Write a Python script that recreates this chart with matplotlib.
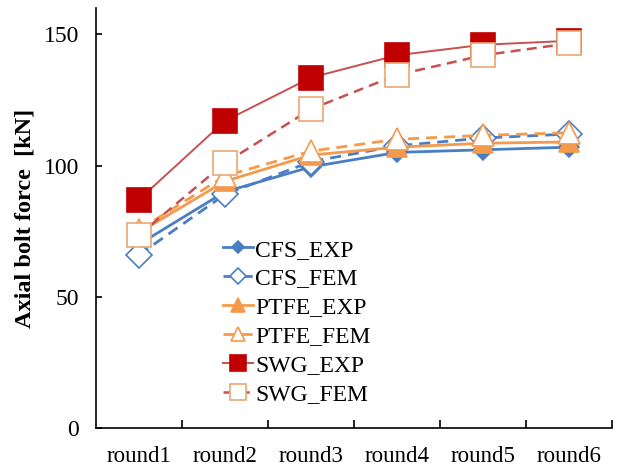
import matplotlib
matplotlib.use("Agg")
import matplotlib.pyplot as plt

plt.rcParams["font.family"] = ["Liberation Serif", "DejaVu Serif"]

rounds = ["round1", "round2", "round3", "round4", "round5", "round6"]
cfs_exp = [70, 90, 99.5, 105, 106, 107]
cfs_fem = [66, 89, 101.5, 107.5, 110.5, 112]
ptfe_exp = [74.5, 94, 104, 107, 108.5, 109]
ptfe_fem = [75.5, 96, 105.5, 110, 111.5, 112.5]
swg_exp = [87, 117, 133.5, 142, 146, 147.5]
swg_fem = [73.5, 101, 121.5, 134.5, 142, 146.5]

BLUE = "#4A7EC2"
ORANGE = "#F59A4C"
RED_M = "#C00000"
RED_L = "#C8504F"

# (label, values, line colour, linestyle, marker, face, edge, size, lw)
series = [
    ("CFS_EXP", cfs_exp, BLUE, "-", "D", BLUE, BLUE, 10, 2.0),
    ("CFS_FEM", cfs_fem, BLUE, (0, (4, 2.5)), "D", "white", BLUE, 13, 2.0),
    ("PTFE_EXP", ptfe_exp, ORANGE, "-", "^", ORANGE, ORANGE, 15, 2.0),
    ("PTFE_FEM", ptfe_fem, ORANGE, (0, (4, 2.5)), "^", "white", ORANGE, 16, 2.0),
    ("SWG_EXP", swg_exp, RED_L, "-", "s", RED_M, RED_M, 17, 1.4),
    ("SWG_FEM", swg_fem, RED_L, (0, (4, 2.5)), "s", "white", "#E8A872", 17, 1.8),
]

fig = plt.figure(figsize=(6.35, 4.7), dpi=100)
ax = fig.add_axes([0.151, 0.089, 0.813, 0.894])
x = list(range(len(rounds)))
for lab, vals, col, ls, mk, fc, ec, ms, lw in series:
    ax.plot(x, vals, color=col, ls=ls, lw=lw, marker=mk, ms=ms,
            mfc=fc, mec=ec, mew=1.2, label=lab)

ax.set_xlim(-0.5, len(rounds) - 0.5)
ax.set_ylim(0, 160)
ax.set_yticks([0, 50, 100, 150])
ax.set_xticks([i + 0.5 for i in range(len(rounds))])
ax.set_xticklabels([])
ax.set_xticks(x, minor=True)
ax.set_xticklabels(rounds, minor=True)
ax.tick_params(axis="x", which="major", direction="in", length=6, width=1.2)
ax.tick_params(axis="x", which="minor", length=0, pad=13, labelsize=16.5)
ax.tick_params(axis="y", direction="in", length=4, width=1.2, pad=12, labelsize=17)
for s in ("top", "right"):
    ax.spines[s].set_visible(False)
for s in ("left", "bottom"):
    ax.spines[s].set_linewidth(1.2)

ax.set_ylabel("Axial bolt force  [kN]", fontsize=17.5, fontweight="bold", labelpad=6)

ax.legend(loc="upper left", bbox_to_anchor=(0.224, 0.478), frameon=False,
          fontsize=17, markerscale=0.65, handlelength=1.25, handletextpad=0.1,
          labelspacing=0.31, borderpad=0)

fig.savefig("out.png", dpi=100)
